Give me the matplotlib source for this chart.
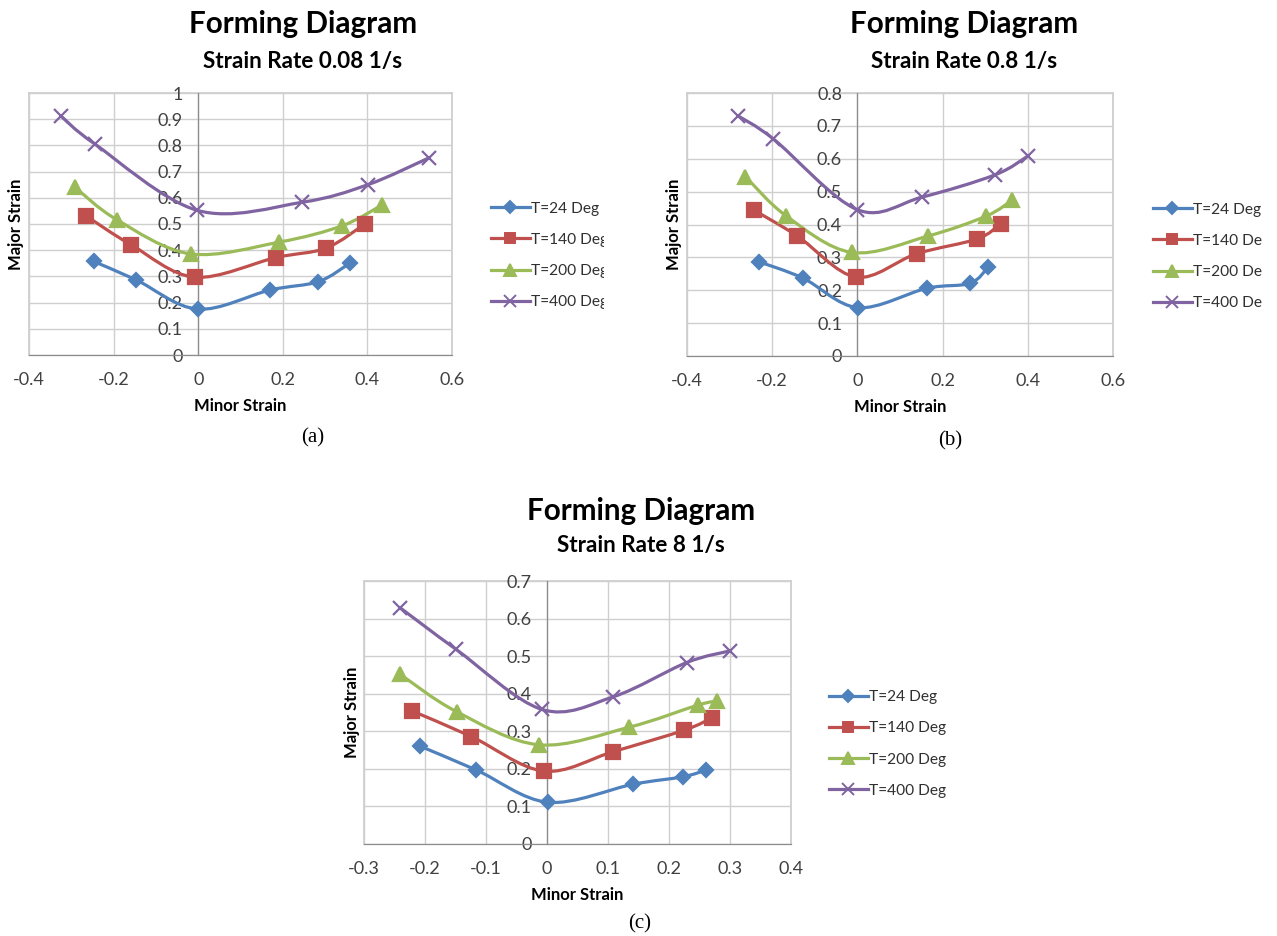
import matplotlib
matplotlib.use("Agg")
import matplotlib.pyplot as plt
from matplotlib.path import Path
from matplotlib.patches import PathPatch
from matplotlib.lines import Line2D
from matplotlib.transforms import Bbox, TransformedBbox

W, H = 1277, 936
FONT = "Lato"

series_labels = ["T=24 Deg", "T=140 Deg", "T=200 Deg", "T=400 Deg"]
colors = ["#4F81BD", "#C0504D", "#9BBB59", "#8064A2"]
markers = ["D", "s", "^", "x"]
msizes = [7.5, 9.5, 10.5, 10]

# (a) strain rate 0.08 1/s
a_x = [[-0.247, -0.147, -0.001, 0.170, 0.284, 0.358],
       [-0.266, -0.158, -0.008, 0.184, 0.302, 0.395],
       [-0.292, -0.192, -0.018, 0.192, 0.340, 0.434],
       [-0.325, -0.245, -0.002, 0.246, 0.401, 0.545]]
a_y = [[0.357, 0.287, 0.175, 0.248, 0.280, 0.350],
       [0.532, 0.420, 0.297, 0.372, 0.408, 0.501],
       [0.641, 0.516, 0.386, 0.431, 0.493, 0.572],
       [0.913, 0.806, 0.552, 0.583, 0.650, 0.752]]

# (b) strain rate 0.8 1/s
b_x = [[-0.232, -0.128, 0.002, 0.163, 0.264, 0.307],
       [-0.242, -0.141, -0.003, 0.139, 0.281, 0.336],
       [-0.263, -0.167, -0.013, 0.166, 0.303, 0.364],
       [-0.281, -0.197, 0.000, 0.151, 0.323, 0.401]]
b_y = [[0.287, 0.237, 0.147, 0.206, 0.221, 0.270],
       [0.443, 0.365, 0.240, 0.311, 0.356, 0.402],
       [0.546, 0.426, 0.315, 0.365, 0.426, 0.475],
       [0.731, 0.660, 0.445, 0.483, 0.551, 0.609]]

# (c) strain rate 8 1/s
c_x = [[-0.209, -0.116, 0.002, 0.141, 0.223, 0.261],
       [-0.221, -0.124, -0.005, 0.109, 0.225, 0.270],
       [-0.241, -0.148, -0.013, 0.135, 0.248, 0.279],
       [-0.241, -0.149, -0.008, 0.109, 0.229, 0.300]]
c_y = [[0.261, 0.197, 0.111, 0.159, 0.179, 0.197],
       [0.354, 0.286, 0.194, 0.246, 0.303, 0.335],
       [0.452, 0.352, 0.264, 0.311, 0.370, 0.380],
       [0.629, 0.518, 0.358, 0.392, 0.483, 0.514]]

a_xticks = [-0.4, -0.2, 0, 0.2, 0.4, 0.6]
a_yticks = [0, 0.1, 0.2, 0.3, 0.4, 0.5, 0.6, 0.7, 0.8, 0.9, 1]
b_xticks = [-0.4, -0.2, 0, 0.2, 0.4, 0.6]
b_yticks = [0, 0.1, 0.2, 0.3, 0.4, 0.5, 0.6, 0.7, 0.8]
c_xticks = [-0.3, -0.2, -0.1, 0, 0.1, 0.2, 0.3, 0.4]
c_yticks = [0, 0.1, 0.2, 0.3, 0.4, 0.5, 0.6, 0.7]

# layout in pixels: plot box (l, t, r, b), ylabel x, title centre x, title baselines, legend, caption
panels = [
    dict(x=a_x, y=a_y, xt=a_xticks, yt=a_yticks, sub="Strain Rate 0.08 1/s",
         box=(29, 93, 452, 355), ylx=16, tx=303, tb=(33, 68), leg=(491, 255.5), clip=604,
         cap="(a)", cap_xy=(313, 438)),
    dict(x=b_x, y=b_y, xt=b_xticks, yt=b_yticks, sub="Strain Rate 0.8 1/s",
         box=(687, 93, 1113, 356), ylx=674, tx=964, tb=(33, 68), leg=(1153, 256.5), clip=1262,
         cap="(b)", cap_xy=(950, 441)),
    dict(x=c_x, y=c_y, xt=c_xticks, yt=c_yticks, sub="Strain Rate 8 1/s",
         box=(364, 581, 791, 844), ylx=352, tx=641, tb=(520, 552), leg=(829, 744), clip=None,
         cap="(c)", cap_xy=(640, 924)),
]

GRID = "#cfcfcf"
AXIS = "#8c8c8c"
TICK = "#404040"


def fx(px):
    return px / W


def fy(py):
    return 1 - py / H


def tick_str(v):
    return f"{v:g}"


def smooth_path(xs, ys):
    # Excel-style smoothed line: cubic Bezier through the points
    pts = list(zip(xs, ys))
    n = len(pts)
    verts = [pts[0]]
    codes = [Path.MOVETO]
    for i in range(n - 1):
        p0 = pts[max(i - 1, 0)]
        p1 = pts[i]
        p2 = pts[i + 1]
        p3 = pts[min(i + 2, n - 1)]
        c1 = (p1[0] + (p2[0] - p0[0]) / 6, p1[1] + (p2[1] - p0[1]) / 6)
        c2 = (p2[0] - (p3[0] - p1[0]) / 6, p2[1] - (p3[1] - p1[1]) / 6)
        verts += [c1, c2, p2]
        codes += [Path.CURVE4] * 3
    return Path(verts, codes)


fig = plt.figure(figsize=(W / 100, H / 100), dpi=100)

for p in panels:
    l, t, r, b = p["box"]
    ax = fig.add_axes([fx(l), fy(b), (r - l) / W, (b - t) / H])
    xt, yt = p["xt"], p["yt"]
    ax.set_xlim(xt[0], xt[-1])
    ax.set_ylim(yt[0], yt[-1])

    for i in range(4):
        ax.add_patch(PathPatch(smooth_path(p["x"][i], p["y"][i]), fc="none",
                               ec=colors[i], lw=2.3, zorder=3, capstyle="round"))
        ax.plot(p["x"][i], p["y"][i], ls="none", marker=markers[i], ms=msizes[i],
                color=colors[i], mec=colors[i], mew=1.6, zorder=4)

    ax.set_xticks(xt, [tick_str(v) for v in xt])
    ax.set_yticks(yt, [tick_str(v) for v in yt])
    ax.grid(True, color=GRID, lw=1.0)
    ax.set_axisbelow(True)
    ax.axvline(xt[0], color=GRID, lw=1.3, clip_on=False, zorder=0.5)
    ax.axhline(yt[-1], color=GRID, lw=1.3, clip_on=False, zorder=0.5)
    ax.axvline(xt[-1], color=GRID, lw=1.3, clip_on=False, zorder=0.5)
    for s in ("top", "right"):
        ax.spines[s].set_visible(False)
    ax.spines["left"].set_position(("data", 0))
    ax.spines["left"].set_color(AXIS)
    ax.spines["bottom"].set_color(AXIS)
    ax.spines["left"].set_linewidth(0.9)
    ax.spines["bottom"].set_linewidth(0.9)
    ax.tick_params(axis="both", length=0, labelsize=13, colors=TICK)
    ax.tick_params(axis="x", pad=12)
    ax.tick_params(axis="y", pad=11)
    for lab in ax.get_xticklabels() + ax.get_yticklabels():
        lab.set_fontfamily(FONT)

    ax.set_xlabel("Minor Strain", fontsize=12, fontweight="bold", family=FONT)
    ax.set_ylabel("Major Strain", fontsize=12, fontweight="bold", family=FONT)
    ax.xaxis.set_label_coords(0.5, -51 / (b - t))
    ax.xaxis.label.set_va("center")
    ax.yaxis.set_label_coords((p["ylx"] - l) / (r - l), 0.5)
    ax.yaxis.label.set_va("center")

    handles = [Line2D([], [], color=colors[i], lw=2.3, marker=markers[i],
                      ms=msizes[i] * 0.8, mew=1.4) for i in range(4)]
    lx, ly = p["leg"]
    leg = fig.legend(handles, series_labels, loc="center left",
                     bbox_to_anchor=(fx(lx), fy(ly)), bbox_transform=fig.transFigure,
                     frameon=False, borderpad=0, borderaxespad=0, handlelength=2.5,
                     handletextpad=0.08, labelspacing=1.1,
                     prop=dict(family=FONT, size=11.2))
    for txt in leg.get_texts():
        txt.set_color("#303030")
        if p["clip"]:
            txt.set_clip_box(TransformedBbox(Bbox([[0, 0], [fx(p["clip"]), 1]]),
                                             fig.transFigure))
            txt.set_clip_on(True)

    fig.text(fx(p["tx"]), fy(p["tb"][0]), "Forming Diagram", ha="center",
             va="baseline", fontsize=21.3, fontweight="bold", family=FONT)
    fig.text(fx(p["tx"]), fy(p["tb"][1]), p["sub"], ha="center",
             va="baseline", fontsize=16.2, fontweight="bold", family=FONT)
    fig.text(fx(p["cap_xy"][0]), fy(p["cap_xy"][1]), p["cap"], ha="center",
             va="center", fontsize=15, family="Liberation Serif")

fig.savefig("out.png", dpi=100)
